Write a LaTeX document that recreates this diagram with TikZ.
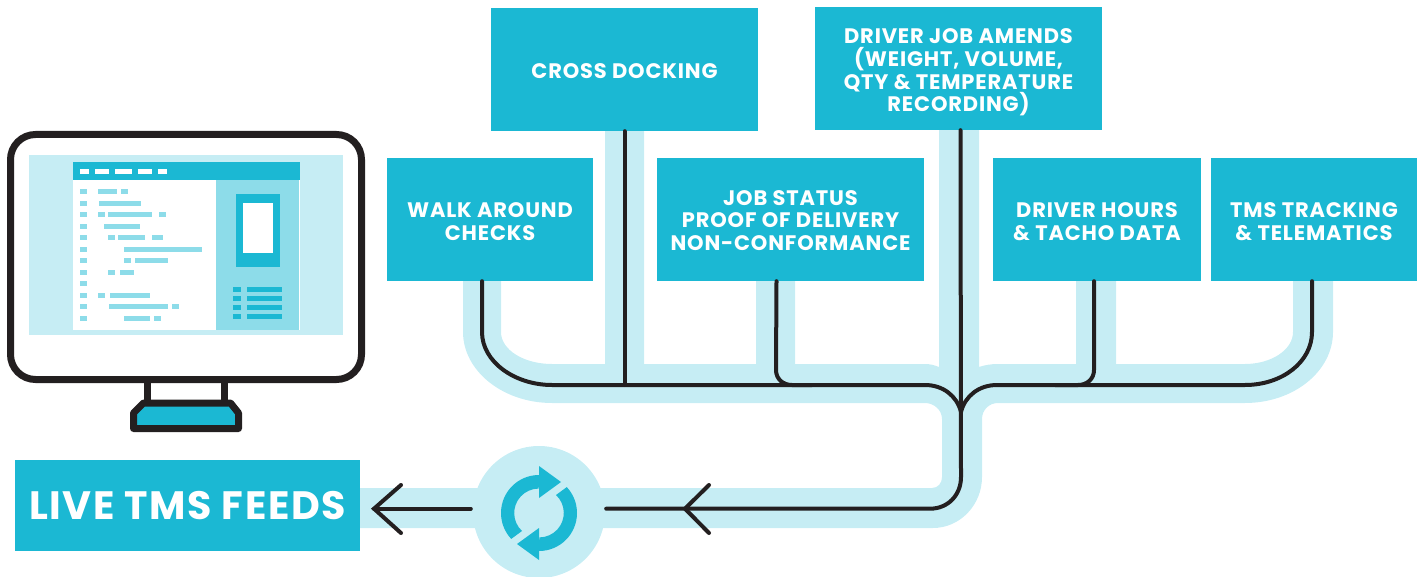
\documentclass[tikz,border=0pt]{standalone}
\usepackage{fontspec}
\setmainfont{Poppins}[BoldFont={Poppins Bold},LetterSpace=4]
\usetikzlibrary{calc}
\definecolor{teal}{HTML}{1BB8D3}
\definecolor{pale}{HTML}{C6EDF4}
\definecolor{mid}{HTML}{8DDCE9}
\definecolor{ink}{HTML}{231F20}
\tikzset{
 x=1pt,y=-1pt,
 box/.style={fill=teal,text=white,inner sep=0pt,font=\fontsize{21}{22.7}\selectfont\bfseries,align=center},
 wire/.style={draw=ink,line width=4pt,line cap=round,line join=round},
 frame/.style={draw=ink,line width=7pt,line join=round},
 chev/.style={draw=ink,line width=4pt,line cap=round,line join=miter},
}
\newcommand{\boxnode}[6]{\node[box,minimum width=#4-#3,minimum height=#6-#5] (#1) at ({(#3+#4)/2},{(#5+#6)/2}) {#2};}
\newcommand{\tdown}[3]{\raisebox{-#1}[\height][\depth]{\parbox{#2}{\centering #3}}}
\begin{document}
\begin{tikzpicture}
\useasboundingbox (0,0) rectangle (1424,577);
% pale band
\fill[pale] (463,281) -- (463,332) .. controls (463,371) and (503,403) .. (552,403) -- (925,403)
 .. controls (934,403) and (942,410) .. (942,419) -- (942,477) .. controls (942,483) and (938,488) .. (932,488)
 -- (360,488) -- (360,528) -- (933,528) .. controls (960,528) and (982,505) .. (982,477) -- (982,419)
 .. controls (982,410) and (989,403) .. (998,403) -- (1245,403) .. controls (1294,403) and (1333,371) .. (1333,332)
 -- (1333,281) -- (1293,281) -- (1293,332) .. controls (1293,350) and (1271,364) .. (1245,364)
 -- (1116,364) -- (1116,281) -- (1076,281) -- (1076,364) -- (998,364) .. controls (991,364) and (985,365) .. (979,367)
 -- (979,130) -- (939,130) -- (939,367) .. controls (934,365) and (930,364) .. (925,364)
 -- (795,364) -- (795,281) -- (756,281) -- (756,364) -- (644,364) -- (644,131) -- (605,131) -- (605,364)
 -- (552,364) .. controls (524,364) and (501,350) .. (501,332) -- (501,281) -- cycle;
% boxes
\boxnode{walk}{\tdown{2pt}{206pt}{WALK AROUND\\CHECKS}}{387}{593}{158}{281}
\boxnode{cross}{\tdown{2pt}{267pt}{CROSS DOCKING}}{491}{758}{8}{131}
\boxnode{job}{\tdown{1pt}{267pt}{JOB STATUS\\PROOF OF DELIVERY\\NON-CONFORMANCE}}{657}{924}{158}{281}
\boxnode{amends}{\tdown{4pt}{287pt}{DRIVER JOB AMENDS\\(WEIGHT, VOLUME,\\QTY \& TEMPERATURE\\RECORDING)}}{815}{1102}{7}{130}
\boxnode{hours}{\tdown{2pt}{208pt}{DRIVER HOURS\\\& TACHO DATA}}{993}{1201}{158}{281}
\boxnode{tms}{\tdown{2pt}{206pt}{TMS TRACKING\\\& TELEMATICS}}{1211}{1417}{158}{281}
\node[fill=teal,text=white,inner sep=0pt,minimum width=345,minimum height=91,font=\fontsize{39.6}{42}\selectfont\bfseries] (feeds) at (187.5,505.5) {LIVE TMS FEEDS};
\node[circle,fill=pale,minimum size=132,inner sep=0pt] (sync) at (539,512) {};
% named junctions
\coordinate (hub) at (961,412);
\coordinate (tipR) at (685,508.7);
\coordinate (tipL) at (374,508.7);
% wires
\draw[wire] ($(walk.south)+(-8,0)$) -- (482,332) .. controls (482,362) and (515,385) .. (552,385) -- (925,385) .. controls (943,385) and (957,396) .. (hub);
\draw[wire] (cross.south) -- (624.5,385);
\draw[wire] ($(job.south)+(-14,0)$) -- (776,370) .. controls (776,379) and (783,385) .. (792,385) -- (812,385);
\draw[wire] ($(amends.south)+(2,0)$) -- (961,477) .. controls (961,495) and (948,508.7) .. (930,508.7) -- ($(sync.east)+(1,-3.3)$);
\draw[wire] ($(tms.south)+(-2,0)$) -- (1312,332) .. controls (1312,362) and (1282,385) .. (1245,385) -- (997,385) .. controls (979,385) and (965,396) .. (hub);
\draw[wire] ($(hours.south)+(-3,0)$) -- (1094,370) .. controls (1094,379) and (1087,385) .. (1078,385) -- (1055,385);
\draw[wire] ($(sync.west)+(-2,-3.3)$) -- (tipL);
\draw[chev] (709,485) -- (tipR) -- (709,533);
\draw[chev] (401,485) -- (tipL) -- (401,533);
% sync icon
\begin{scope}[shift={(539,513)}]
\foreach \r in {0,180}{
\begin{scope}[rotate=\r]
\fill[teal] (0,-38) arc[start angle=270,end angle=137,radius=38] -- (-17,18) arc[start angle=133,end angle=270,radius=24.5] -- cycle;
\fill[teal] (0,-47) -- (22,-31) -- (0,-15) -- cycle;
\end{scope}}
\end{scope}
% monitor
\draw[frame,fill=white] (10.5,134.5) [rounded corners=25pt] rectangle (361.5,379.5);
\draw[frame] (147.7,381) -- (147.7,402) (224.6,381) -- (224.6,402);
\draw[frame,fill=teal] (133.5,413) -- (143.5,403) -- (230.5,403) -- (238.5,413) -- (238.5,428.5) -- (133.5,428.5) -- cycle;
\fill[pale] (29,155) rectangle (343,335);
\fill[white] (73,162) rectangle (300,330);
\fill[teal] (73,162) rectangle (300,180);
\fill[mid] (216,180) rectangle (299,330);
\fill[teal] (236,194) rectangle (280,267);
\fill[white] (243,203) rectangle (273,253);
\begin{scope}[x=0.33333pt,y=-0.33333pt,shift={(0,360)}]
\foreach \a/\b in {240/267,285/327,345/396,414/456,474/501}{\fill[white] (\a,147) rectangle (\b,162);}
\foreach \t in {501,528,555,582}{\fill[teal] (699,\t) rectangle (723,\t+15);\fill[teal] (741,\t) rectangle (846,\t+15);}
\foreach \t in {207,243,276,312,345,381,414,450,483,519,552,588}{\fill[mid] (240,\t) rectangle (261,\t+15);}
\foreach \t/\a/\b in {207/294/351,207/363/384,243/297/423,276/294/315,276/324/456,276/477/498,312/312/420,345/324/345,345/354/435,345/456/489,381/372/606,414/372/393,414/405/504,450/324/345,450/360/402,519/294/315,519/330/450,552/327/504,552/516/537,588/372/450,588/462/483}{\fill[mid] (\a,\t) rectangle (\b,\t+15);}
\end{scope}
\end{tikzpicture}
\end{document}
